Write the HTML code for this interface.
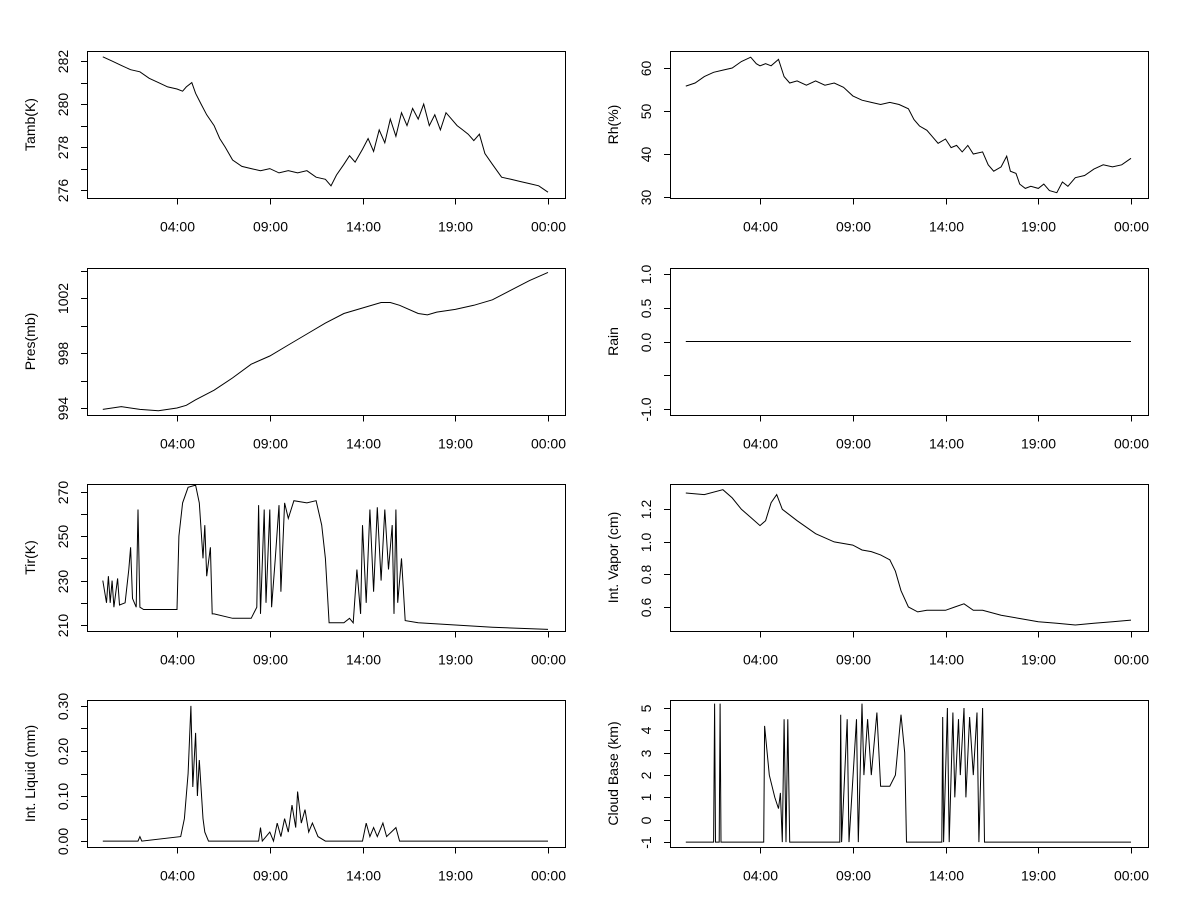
<!DOCTYPE html>
<html><head><meta charset="utf-8"><style>
html,body{margin:0;padding:0;background:#fff;}
svg text{font-family:"Liberation Sans",Arial,sans-serif;font-size:14px;fill:#000;}
</style></head><body>
<svg id="chart" width="1200" height="900" xmlns="http://www.w3.org/2000/svg"></svg>
<script>
// ---- data (hours since midnight, values) ----
const xTickLabels = ["04:00","09:00","14:00","19:00","00:00"];
const xTickHours = [4,9,14,19,24];

const tambT = [0,0.5,1,1.5,2,2.5,3,3.5,4,4.3,4.5,4.8,5,5.3,5.6,6,6.3,6.6,7,7.5,8,8.5,9,9.5,10,10.5,11,11.5,12,12.3,12.6,13,13.3,13.6,14,14.3,14.6,14.9,15.2,15.5,15.8,16.1,16.4,16.7,17,17.3,17.6,17.9,18.2,18.5,18.8,19.1,19.4,19.7,20,20.3,20.6,21,21.5,22,22.5,23,23.5,24];
const tambV = [282.2,282.0,281.8,281.6,281.5,281.2,281.0,280.8,280.7,280.6,280.8,281.0,280.5,280.0,279.5,279.0,278.4,278.0,277.4,277.1,277.0,276.9,277.0,276.8,276.9,276.8,276.9,276.6,276.5,276.2,276.7,277.2,277.6,277.3,277.9,278.4,277.8,278.8,278.2,279.3,278.5,279.6,279.0,279.8,279.3,280.0,279.0,279.5,278.8,279.6,279.3,279.0,278.8,278.6,278.3,278.6,277.7,277.2,276.6,276.5,276.4,276.3,276.2,275.9];

const rhT = [0,0.5,1,1.5,2,2.5,3,3.5,3.8,4,4.3,4.6,5,5.3,5.6,6,6.5,7,7.5,8,8.5,9,9.5,10,10.5,11,11.5,12,12.3,12.6,13,13.3,13.6,14,14.3,14.6,14.9,15.2,15.5,16,16.3,16.6,17,17.3,17.5,17.8,18,18.3,18.6,19,19.3,19.6,20,20.3,20.6,21,21.5,22,22.5,23,23.5,24];
const rhV = [55.8,56.5,58,59,59.5,60,61.5,62.5,61,60.5,61,60.5,62,58,56.5,57,56,57,56,56.5,55.5,53.5,52.5,52,51.5,52,51.5,50.5,48,46.5,45.5,44,42.5,43.5,41.5,42,40.5,42,40,40.5,37.5,36,37,39.5,36,35.5,33,32,32.5,32,33,31.5,31,33.5,32.5,34.5,35,36.5,37.5,37,37.5,39];

const presT = [0,1,2,3,4,4.5,5,6,7,8,9,10,11,12,13,14,15,15.5,16,17,17.5,18,19,20,21,22,23,24];
const presV = [993.9,994.1,993.9,993.8,994.0,994.2,994.6,995.3,996.2,997.2,997.8,998.6,999.4,1000.2,1000.9,1001.3,1001.7,1001.7,1001.5,1000.9,1000.8,1001.0,1001.2,1001.5,1001.9,1002.6,1003.3,1003.9];

const rainT = [0,24];
const rainV = [0,0];

const tirT = [0,0.2,0.3,0.4,0.5,0.6,0.8,0.9,1.2,1.4,1.5,1.6,1.8,1.9,2.0,2.2,3,4.0,4.1,4.3,4.6,5.0,5.2,5.4,5.5,5.6,5.8,5.9,6,7,8,8.3,8.4,8.5,8.7,8.8,9.0,9.1,9.3,9.5,9.6,9.8,10,10.3,11,11.5,11.8,12,12.2,13,13.3,13.5,13.7,13.9,14.0,14.2,14.4,14.6,14.8,15,15.2,15.4,15.6,15.7,15.8,15.9,16.1,16.3,17,19,21,24];
const tirV = [230,220,232,220,230,218,231,219,220,235,245,222,218,262,218,217,217,217,250,265,272,273,265,240,255,232,245,215,215,213,213,218,264,215,262,220,262,218,240,264,225,265,258,266,265,266,255,240,211,211,213,211,235,215,255,220,262,225,263,230,262,235,255,215,262,220,240,212,211,210,209,208];

const vapT = [0,1,2,2.5,3,3.5,4,4.3,4.6,4.9,5.2,6,7,8,9,9.5,10,10.5,11,11.3,11.6,12,12.5,13,14,14.5,15,15.5,16,17,18,19,20,21,22,23,24];
const vapV = [1.30,1.29,1.32,1.27,1.2,1.15,1.1,1.13,1.24,1.29,1.2,1.13,1.05,1.0,0.98,0.95,0.94,0.92,0.89,0.82,0.7,0.6,0.57,0.58,0.58,0.6,0.62,0.58,0.58,0.55,0.53,0.51,0.5,0.49,0.5,0.51,0.52];

const liqT = [0,1.9,2,2.1,4.2,4.4,4.6,4.75,4.85,5,5.1,5.2,5.4,5.5,5.7,8.4,8.5,8.6,9,9.2,9.4,9.6,9.8,10,10.2,10.4,10.5,10.7,10.9,11.1,11.3,11.6,12,14,14.2,14.4,14.6,14.8,15.1,15.3,15.8,16,24];
const liqV = [0,0,0.01,0,0.01,0.05,0.15,0.30,0.12,0.24,0.1,0.18,0.05,0.02,0,0,0.03,0,0.02,0,0.04,0.01,0.05,0.02,0.08,0.03,0.11,0.04,0.07,0.02,0.04,0.01,0,0,0.04,0.01,0.03,0.01,0.04,0.01,0.03,0,0];

const cldT = [0,1.5,1.55,1.6,1.8,1.85,1.9,4.2,4.25,4.5,4.8,5,5.1,5.2,5.3,5.4,5.5,5.6,8.3,8.35,8.4,8.7,8.8,9.2,9.3,9.5,9.6,9.8,10,10.3,10.5,11,11.3,11.6,11.8,11.9,13.8,13.85,13.9,14.1,14.2,14.4,14.5,14.7,14.8,15,15.1,15.3,15.5,15.7,15.8,16,16.1,24];
const cldV = [-1,-1,5.2,-1,-1,5.2,-1,-1,4.2,2,1,0.5,1.2,-1,4.5,-1,4.5,-1,-1,4.7,-1,4.5,-1,4.5,-1,5.2,2,4.5,2,4.8,1.5,1.5,2,4.7,3,-1,-1,4.6,-1,5,-1,4.8,1,4.5,2,5,1,4.6,2,4.8,-1,5,-1,-1];

const panels = [
 {name:"tamb",label:"Tamb(K)",x:87,y:51,t:tambT,v:tambV,lo:275.63,hi:282.47,ticks:[276,277,278,279,280,281,282],labels:["276","","278","","280","","282"]},
 {name:"rh",label:"Rh(%)",x:670,y:51,t:rhT,v:rhV,lo:29.77,hi:63.95,ticks:[30,40,50,60],labels:["30","40","50","60"]},
 {name:"pres",label:"Pres(mb)",x:87,y:268,t:presT,v:presV,lo:993.49,hi:1004.22,ticks:[994,996,998,1000,1002,1004],labels:["994","","998","","1002",""]},
 {name:"rain",label:"Rain",x:670,y:268,t:rainT,v:rainV,lo:-1.09,hi:1.09,ticks:[-1,-0.5,0,0.5,1],labels:["-1.0","","0.0","0.5","1.0"]},
 {name:"tir",label:"Tir(K)",x:87,y:484,t:tirT,v:tirV,lo:207.3,hi:273.5,ticks:[210,220,230,240,250,260,270],labels:["210","","230","","250","","270"]},
 {name:"vapor",label:"Int. Vapor (cm)",x:670,y:484,t:vapT,v:vapV,lo:0.453,hi:1.355,ticks:[0.6,0.8,1.0,1.2],labels:["0.6","0.8","1.0","1.2"]},
 {name:"liquid",label:"Int. Liquid (mm)",x:87,y:700,t:liqT,v:liqV,lo:-0.013,hi:0.313,ticks:[0,0.05,0.1,0.15,0.2,0.25,0.3],labels:["0.00","","0.10","","0.20","","0.30"]},
 {name:"cloud-base",label:"Cloud Base (km)",x:670,y:700,t:cldT,v:cldV,lo:-1.22,hi:5.36,ticks:[-1,0,1,2,3,4,5],labels:["-1","0","1","2","3","4","5"]}
];
const W=478,H=147;
const svg=document.getElementById('chart');
const NS="http://www.w3.org/2000/svg";
function mk(tag,attrs,parent){const e=document.createElementNS(NS,tag);for(const k in attrs)e.setAttribute(k,attrs[k]);parent.appendChild(e);return e;}

panels.forEach(p=>{
  const g=mk('g',{},svg);
  
  
  const xs=h=>p.x+15.8+h*18.55;
  const ys=v=>p.y+H-(v-p.lo)/(p.hi-p.lo)*H;
  const box=mk('rect',{x:p.x+0.5,y:p.y+0.5,width:W,height:H,fill:'none',stroke:'#000','stroke-width':1},g);
  
  
  let d='';
  p.t.forEach((h,i)=>{d+=(i?'L':'M')+xs(h).toFixed(1)+','+ys(p.v[i]).toFixed(1);});
  const line=mk('path',{d:d,fill:'none',stroke:'#000','stroke-width':1},g);
  
  
  const yax=mk('g',{},g);
  
  
  mk('line',{x1:p.x+0.5,x2:p.x+0.5,y1:ys(p.ticks[0]),y2:ys(p.ticks[p.ticks.length-1]),stroke:'#000'},yax);
  p.ticks.forEach((tv,i)=>{
    const yy=Math.round(ys(tv))+0.5;
    mk('line',{x1:p.x-6,x2:p.x+0.5,y1:yy,y2:yy,stroke:'#000'},yax);
    if(p.labels[i]){
      const t=mk('text',{x:p.x-19,y:yy,transform:`rotate(-90 ${p.x-19} ${yy})`,'text-anchor':'middle'},yax);
      t.textContent=p.labels[i];
      
      
    }
  });
  const yl=mk('text',{x:p.x-52,y:p.y+H/2,transform:`rotate(-90 ${p.x-52} ${p.y+H/2})`,'text-anchor':'middle'},g);
  yl.textContent=p.label;
  
  
  const xax=mk('g',{},g);
  
  
  const by=p.y+H+0.5;
  mk('line',{x1:xs(xTickHours[0]),x2:xs(xTickHours[xTickHours.length-1]),y1:by,y2:by,stroke:'#000'},xax);
  xTickHours.forEach((h,i)=>{
    const xx=Math.round(xs(h))+0.5;
    mk('line',{x1:xx,x2:xx,y1:by,y2:by+6,stroke:'#000'},xax);
    const t=mk('text',{x:xx,y:by+33,'text-anchor':'middle'},xax);
    t.textContent=xTickLabels[i];
    
    
  });
});
</script>
</body></html>
